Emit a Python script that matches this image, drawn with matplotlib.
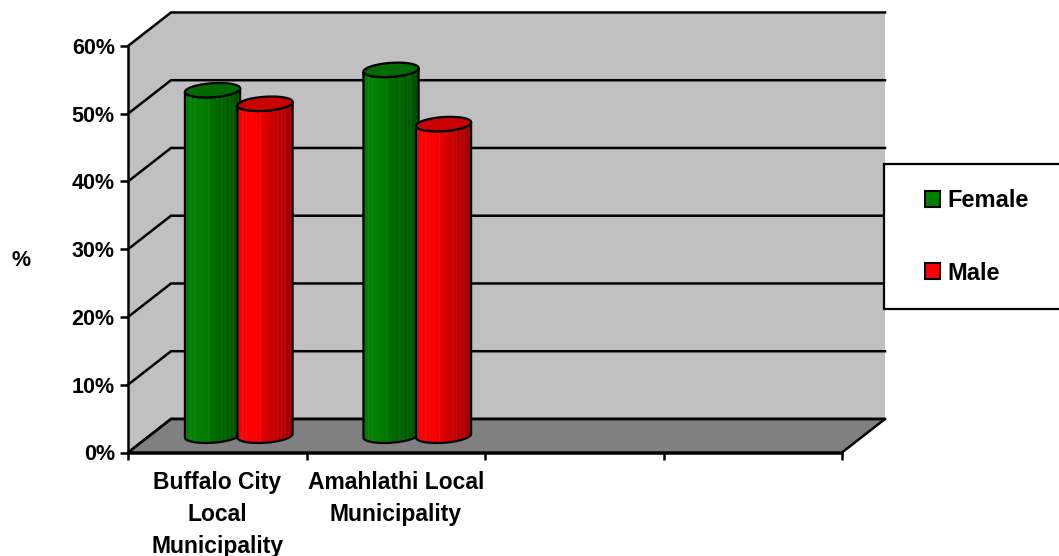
import numpy as np
import matplotlib
matplotlib.use('Agg')
import matplotlib.pyplot as plt
from matplotlib.patches import Polygon, PathPatch, Rectangle, Patch
from matplotlib.path import Path
from matplotlib.transforms import IdentityTransform

#data
categories = ['Buffalo City\nLocal\nMunicipality', 'Amahlathi Local\nMunicipality', '', '']
female = [51, 54]
male = [49, 46]
series = ['Female', 'Male']
yticks = [0, 10, 20, 30, 40, 50, 60]

plt.rcParams['font.family'] = ['Liberation Sans', 'DejaVu Sans']
plt.rcParams['font.weight'] = 'bold'

W, H = 1059, 556
fig = plt.figure(figsize=(W / 100, H / 100), dpi=100)
ax = fig.add_axes([128 / W, 103.5 / H, 714 / W, 406.5 / H])
n = len(categories)
ax.set_xlim(0, n)
ax.set_ylim(0, 60)
ax.set_autoscale_on(False)
ax.patch.set_visible(False)

#depth of the 3d box, data units
dx, dy = 0.241, 4.95
lw = 1.8

#walls and floor
ax.add_patch(Polygon([(0, 0), (dx, dy), (dx, 60 + dy), (0, 60)], closed=True,
                     fc='#C0C0C0', ec='none', clip_on=False, zorder=0))
ax.add_patch(Polygon([(dx, dy), (n + dx, dy), (n + dx, 60 + dy), (dx, 60 + dy)], closed=True,
                     fc='#C0C0C0', ec='none', clip_on=False, zorder=0))
ax.add_patch(Polygon([(0, 0), (n, 0), (n + dx, dy), (dx, dy)], closed=True,
                     fc='#808080', ec='black', lw=lw, clip_on=False, zorder=1))

#gridlines bent round the wall
for v in yticks:
    ax.plot([0, dx, n + dx], [v, v + dy, v + dy], color='black', lw=lw,
            clip_on=False, zorder=2, solid_joinstyle='miter')

#axes
for s in ['top', 'right']:
    ax.spines[s].set_visible(False)
for s in ['left', 'bottom']:
    ax.spines[s].set_linewidth(lw)
    ax.spines[s].set_zorder(3)
ax.set_yticks(yticks)
ax.set_yticklabels(['%d%%' % v for v in yticks])
ax.tick_params(axis='y', direction='out', length=6, width=lw, pad=3.5, labelsize=15.5)
ax.set_xticks(range(n + 1))
ax.set_xticklabels([])
ax.tick_params(axis='x', which='major', direction='out', length=5, width=lw)
ax.set_xticks(np.arange(n) + 0.5, minor=True)
ax.set_xticklabels(categories, minor=True)
ax.tick_params(axis='x', which='minor', length=0, pad=13.5, labelsize=16.5)
for t in ax.get_xticklabels(minor=True):
    t.set_linespacing(1.48)

#cylinders
bar_w = 0.31
offs = [-0.147, 0.147]
ry = 7
tilt = np.deg2rad(4)
base_cols = {'Female': np.array([0, 128, 0]) / 255, 'Male': np.array([255, 0, 0]) / 255}
top_cols = {'Female': '#006A00', 'Male': '#C80000'}

u = np.linspace(0, 1, 240)
shade = np.interp(u, [0, 0.06, 0.3, 0.6, 1], [0.88, 1.0, 1.0, 0.8, 0.62])
streak = np.zeros_like(u)
for p in [0.1, 0.17, 0.42, 0.66, 0.72, 0.8, 0.86]:
    streak += np.exp(-((u - p) / 0.006) ** 2)


def ellipse_pts(cx, cy, rx, t):
    x = cx + rx * np.cos(t) * np.cos(tilt) - ry * np.sin(t) * np.sin(tilt)
    y = cy + rx * np.cos(t) * np.sin(tilt) + ry * np.sin(t) * np.cos(tilt)
    return np.column_stack([x, y])


def cylinder(xc, val, name, z):
    bx, by = ax.transData.transform((xc, dy / 2))
    tx, ty = ax.transData.transform((xc, val + dy / 2))
    rx = ax.transData.transform((xc + bar_w / 2, 0))[0] - bx
    lo = np.linspace(np.pi, 2 * np.pi, 60)
    bottom = ellipse_pts(bx, by, rx, lo)
    top_front = ellipse_pts(tx, ty, rx, lo[::-1])
    verts = np.vstack([bottom, top_front, bottom[:1]])
    body = Path(verts, closed=True)

    c = base_cols[name]
    rgb = c[None, :] * shade[:, None]
    rgb = rgb + (1 - rgb) * 0.12 * np.clip(streak, 0, 1)[:, None]
    img = np.clip(rgb, 0, 1)[None, :, :]
    im = ax.imshow(img, extent=(xc - bar_w / 2, xc + bar_w / 2, 0, 60),
                   aspect='auto', interpolation='bilinear', zorder=z)
    clip = PathPatch(body, transform=IdentityTransform())
    im.set_clip_path(clip)
    ax.add_patch(PathPatch(body, fc='none', ec='black', lw=1.6,
                           transform=IdentityTransform(), clip_on=False, zorder=z + 0.1))
    cap = ellipse_pts(tx, ty, rx, np.linspace(0, 2 * np.pi, 120))
    ax.add_patch(Polygon(cap, closed=True, fc=top_cols[name], ec='black', lw=1.6,
                         transform=IdentityTransform(), clip_on=False, zorder=z + 0.2))


z = 4
for i in range(len(female)):
    for name, vals, o in zip(series, [female, male], offs):
        cylinder(i + 0.5 + o + dx / 2, vals[i], name, z)
        z += 1
ax.set_xlim(0, n)
ax.set_ylim(0, 60)

#% label
fig.text(21.5 / W, 1 - 260 / H, '%', ha='center', va='center', fontsize=15.5, fontweight='bold')

#legend box, runs off the right edge
fig.add_artist(Rectangle((884 / W, (H - 309) / H), 0.3, 145 / H, transform=fig.transFigure,
                         fc='white', ec='black', lw=1.6, zorder=2))
handles = [Patch(fc=base_cols[s], ec='black', lw=1.5) for s in series]
leg = fig.legend(handles, series, loc='upper left', bbox_to_anchor=(925 / W, 1 - 189 / H),
                 bbox_transform=fig.transFigure, frameon=False, fontsize=17,
                 handlelength=0.64, handleheight=0.64, handletextpad=0.3,
                 labelspacing=2.1, borderpad=0, borderaxespad=0)
leg.set_zorder(5)

fig.savefig('out.png', dpi=100)
